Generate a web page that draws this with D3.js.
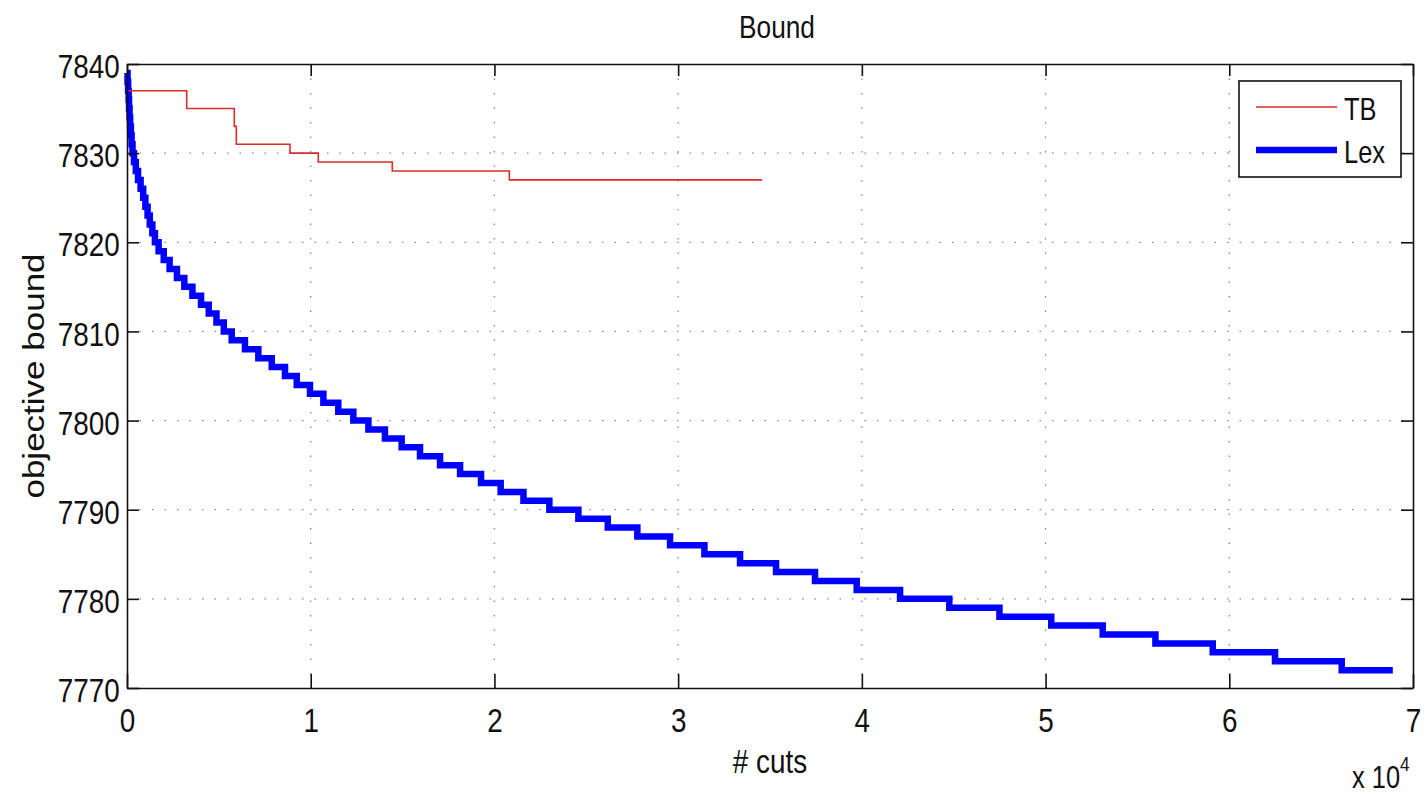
<!DOCTYPE html>
<html>
<head>
<meta charset="utf-8">
<script src="https://cdn.jsdelivr.net/npm/d3@7"></script>
<style>
  body { margin: 0; background: #fff; }
  text { font-family: "Liberation Sans", Arial, sans-serif; fill: #111; }
</style>
</head>
<body>
<svg id="chart" width="1428" height="798"></svg>
<script>
// TB bound (red, thin) - step starts
var tbCuts = [0, 3250, 5840, 5950, 8870, 10410, 14440, 20810, 34570];
var tbBound = [7837, 7835, 7833, 7831, 7830, 7829, 7828, 7827, 7827];

// Lex bound (blue, thick) - step starts
var lexCuts = [0, 30, 60, 90, 110, 140, 170, 210, 250, 300, 380, 480, 600, 740, 880,
  1000, 1120, 1240, 1380, 1520, 1720, 2000, 2320, 2720, 3120, 3560, 4030, 4450,
  4870, 5270, 5700, 6420, 7150, 7880, 8600, 9240, 9960, 10690, 11500, 12320,
  13140, 14040, 14950, 15950, 17040, 18130, 19270, 20340, 21580, 22990, 24570,
  26170, 27780, 29560, 31430, 33370, 35330, 37450, 39720, 42080, 44760, 47490,
  50310, 53110, 55980, 59100, 62490, 66120, 68900];
var lexBound = [7839, 7838, 7837, 7836, 7835, 7834, 7833, 7832, 7831, 7830, 7829,
  7828, 7827, 7826, 7825, 7824, 7823, 7822, 7821, 7820, 7819, 7818, 7817, 7816,
  7815, 7814, 7813, 7812, 7811, 7810, 7809, 7808, 7807, 7806, 7805, 7804, 7803,
  7802, 7801, 7800, 7799, 7798, 7797, 7796, 7795, 7794, 7793, 7792, 7791, 7790,
  7789, 7788, 7787, 7786, 7785, 7784, 7783, 7782, 7781, 7780, 7779, 7778, 7777,
  7776, 7775, 7774, 7773, 7772, 7772];

var xTicks = [0, 10000, 20000, 30000, 40000, 50000, 60000, 70000];
var yTicks = [7770, 7780, 7790, 7800, 7810, 7820, 7830, 7840];

var margin = { top: 64, right: 15, bottom: 110, left: 127 };
var width = 1428 - margin.left - margin.right;
var height = 798 - margin.top - margin.bottom;
var squeeze = "scale(0.82,1)";

var svg = d3.select("#chart");
var g = svg.append("g")
  .attr("transform", "translate(" + margin.left + "," + margin.top + ")");

var x = d3.scaleLinear().domain([0, 70000]).range([0, width]);
var y = d3.scaleLinear().domain([7770, 7840]).range([height, 0]);

// dotted grid
g.selectAll(".vgrid")
  .data(xTicks.slice(1, -1))
  .enter()
  .append("line")
  .attr("x1", function (d) { return x(d); })
  .attr("x2", function (d) { return x(d); })
  .attr("y1", 0)
  .attr("y2", height)
  .style("stroke", "#888")
  .style("stroke-width", 1.3)
  .style("stroke-dasharray", "1.5,13");

g.selectAll(".hgrid")
  .data(yTicks.slice(1, -1))
  .enter()
  .append("line")
  .attr("x1", 0)
  .attr("x2", width)
  .attr("y1", function (d) { return y(d); })
  .attr("y2", function (d) { return y(d); })
  .style("stroke", "#888")
  .style("stroke-width", 1.3)
  .style("stroke-dasharray", "1.5,11");

// lines
var stepLine = d3.line()
  .x(function (d) { return x(d[0]); })
  .y(function (d) { return y(d[1]); })
  .curve(d3.curveStepAfter);

g.append("path")
  .datum(d3.zip(lexCuts, lexBound))
  .attr("d", stepLine)
  .style("fill", "none")
  .style("stroke", "#0000ff")
  .style("stroke-width", 6.5);

g.append("path")
  .datum(d3.zip(tbCuts, tbBound))
  .attr("d", stepLine)
  .style("fill", "none")
  .style("stroke", "#dd2a2a")
  .style("stroke-width", 1.6);

// axes (MATLAB box style, ticks inward)
var xAxis = g.append("g")
  .attr("transform", "translate(0," + height + ")")
  .call(d3.axisBottom(x).tickValues(xTicks).tickSize(-14).tickSizeOuter(0)
    .tickPadding(20).tickFormat(function (d) { return d / 10000; }));

var yAxis = g.append("g")
  .call(d3.axisLeft(y).tickValues(yTicks).tickSize(-12).tickSizeOuter(0)
    .tickPadding(9).tickFormat(d3.format("d")));

g.append("g")
  .call(d3.axisTop(x).tickValues(xTicks).tickSize(-12).tickSizeOuter(0)
    .tickFormat(""));

g.append("g")
  .attr("transform", "translate(" + width + ",0)")
  .call(d3.axisRight(y).tickValues(yTicks).tickSize(-12).tickSizeOuter(0)
    .tickFormat(""));

g.selectAll(".domain, .tick line")
  .style("stroke", "#111")
  .style("stroke-width", 1.6);

xAxis.selectAll("text")
  .style("font-size", "34px")
  .attr("transform", squeeze);

yAxis.selectAll("text")
  .style("font-size", "34px")
  .attr("dy", "0.4em")
  .attr("transform", squeeze);

// title and axis labels
svg.append("text")
  .attr("transform", "translate(777,38) " + squeeze)
  .attr("text-anchor", "middle")
  .style("font-size", "32px")
  .text("Bound");

svg.append("text")
  .attr("transform", "translate(770,773) " + squeeze)
  .attr("text-anchor", "middle")
  .style("font-size", "34px")
  .text("# cuts");

svg.append("text")
  .attr("transform", "translate(44,376) " + squeeze + " rotate(-90)")
  .attr("text-anchor", "middle")
  .style("font-size", "35px")
  .text("objective bound");

var expo = svg.append("text")
  .attr("transform", "translate(1352,788) " + squeeze)
  .style("font-size", "31px");
expo.append("tspan").text("x 10");
expo.append("tspan")
  .attr("dy", "-17")
  .style("font-size", "21px")
  .text("4");

// legend
var legend = svg.append("g").attr("class", "legend");
legend.append("rect")
  .attr("x", 1239)
  .attr("y", 81)
  .attr("width", 162)
  .attr("height", 96)
  .style("fill", "#fff")
  .style("stroke", "#111")
  .style("stroke-width", 1.6);

var legendItems = [
  { name: "TB", color: "#dd2a2a", w: 1.6, y: 107 },
  { name: "Lex", color: "#0000ff", w: 6.5, y: 150 }
];

legend.selectAll(".item")
  .data(legendItems)
  .enter()
  .append("line")
  .attr("x1", 1256)
  .attr("x2", 1337)
  .attr("y1", function (d) { return d.y; })
  .attr("y2", function (d) { return d.y; })
  .style("stroke", function (d) { return d.color; })
  .style("stroke-width", function (d) { return d.w; });

legend.selectAll(".label")
  .data(legendItems)
  .enter()
  .append("text")
  .attr("transform", function (d) {
    return "translate(1344," + (d.y + 13) + ") " + squeeze;
  })
  .style("font-size", "31px")
  .text(function (d) { return d.name; });
</script>
</body>
</html>
